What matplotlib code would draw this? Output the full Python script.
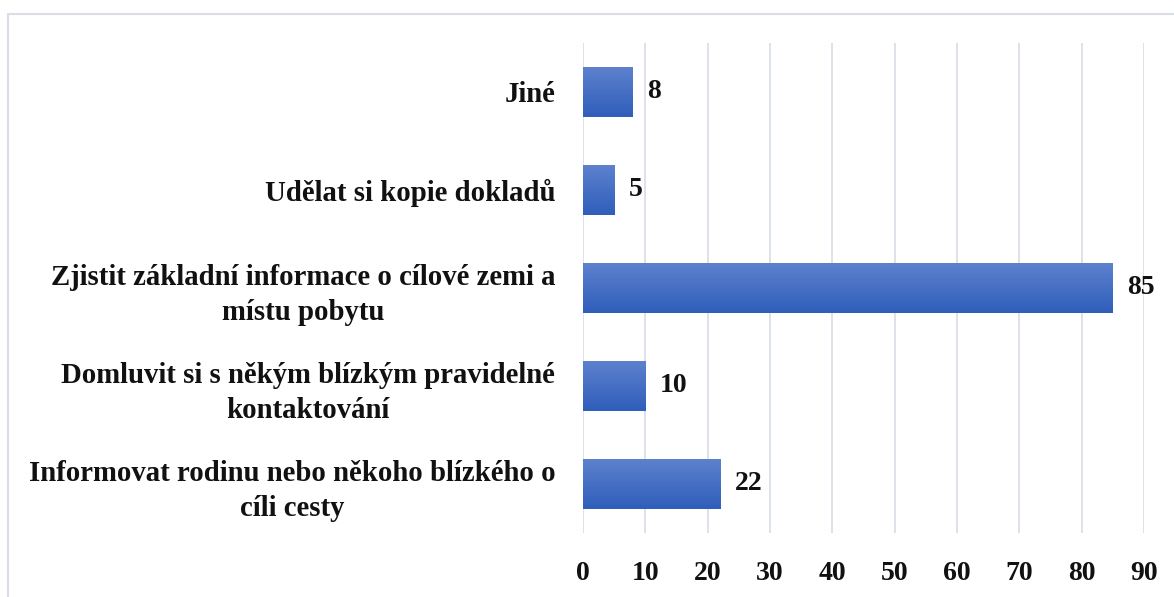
import numpy as np
import matplotlib.pyplot as plt
from matplotlib.patches import Rectangle
from matplotlib.colors import LinearSegmentedColormap

categories = [
    "Informovat rodinu nebo někoho blízkého o\ncíli cesty",
    "Domluvit si s někým blízkým pravidelné\nkontaktování",
    "Zjistit základní informace o cílové zemi a\nmístu pobytu",
    "Udělat si kopie dokladů",
    "Jiné",
]
values = [22, 10, 85, 5, 8]
xticks = [0, 10, 20, 30, 40, 50, 60, 70, 80, 90]

plt.rcParams['font.family'] = ['Liberation Serif', 'DejaVu Serif']
plt.rcParams['font.weight'] = 'bold'

W, H = 1174, 597
fig = plt.figure(figsize=(W / 100, H / 100), dpi=100)
ax = fig.add_axes([583 / W, 1 - 533 / H, (1144 - 583) / W, (533 - 43) / H])

# outer chart border (cropped on right and bottom)
fig.patches.append(Rectangle((8 / W, -0.1), 1.2, (597 - 14) / H + 0.1,
                             transform=fig.transFigure, fill=False,
                             edgecolor='#D9DEE6', linewidth=1.5))

y = np.arange(len(categories))
bars = ax.barh(y, values, height=0.51, color='none', edgecolor='none', zorder=3)

# vertical gradient fill like the Excel style
grad = LinearSegmentedColormap.from_list('g', ['#2F5EBB', '#5D81CD'])
g = np.linspace(0, 1, 64).reshape(-1, 1)
for b in bars:
    x0, y0 = b.get_x(), b.get_y()
    ax.imshow(g, cmap=grad, origin='lower', aspect='auto', zorder=3,
              extent=(x0, x0 + b.get_width(), y0, y0 + b.get_height()))

for yi, v in zip(y, values):
    ax.text(v + 2.3, yi, str(v), va='center', ha='left', fontsize=20,
            fontweight='bold', color='#111111')

ax.set_xlim(0, 90)
ax.set_ylim(-0.5, len(categories) - 0.5)
ax.set_xticks(xticks)
ax.set_yticks(y)
ax.set_yticklabels(categories, fontsize=20.7, fontweight='bold',
                   multialignment='center', linespacing=1.4)
ax.tick_params(axis='both', length=0, colors='#111111')
ax.tick_params(axis='x', pad=20, labelsize=20)
ax.tick_params(axis='y', pad=20)

ax.grid(axis='x', color='#DDE2EA', linewidth=1.4, zorder=0)
ax.set_axisbelow(True)
for s in ax.spines.values():
    s.set_visible(False)

fig.savefig('out.png', dpi=100)
